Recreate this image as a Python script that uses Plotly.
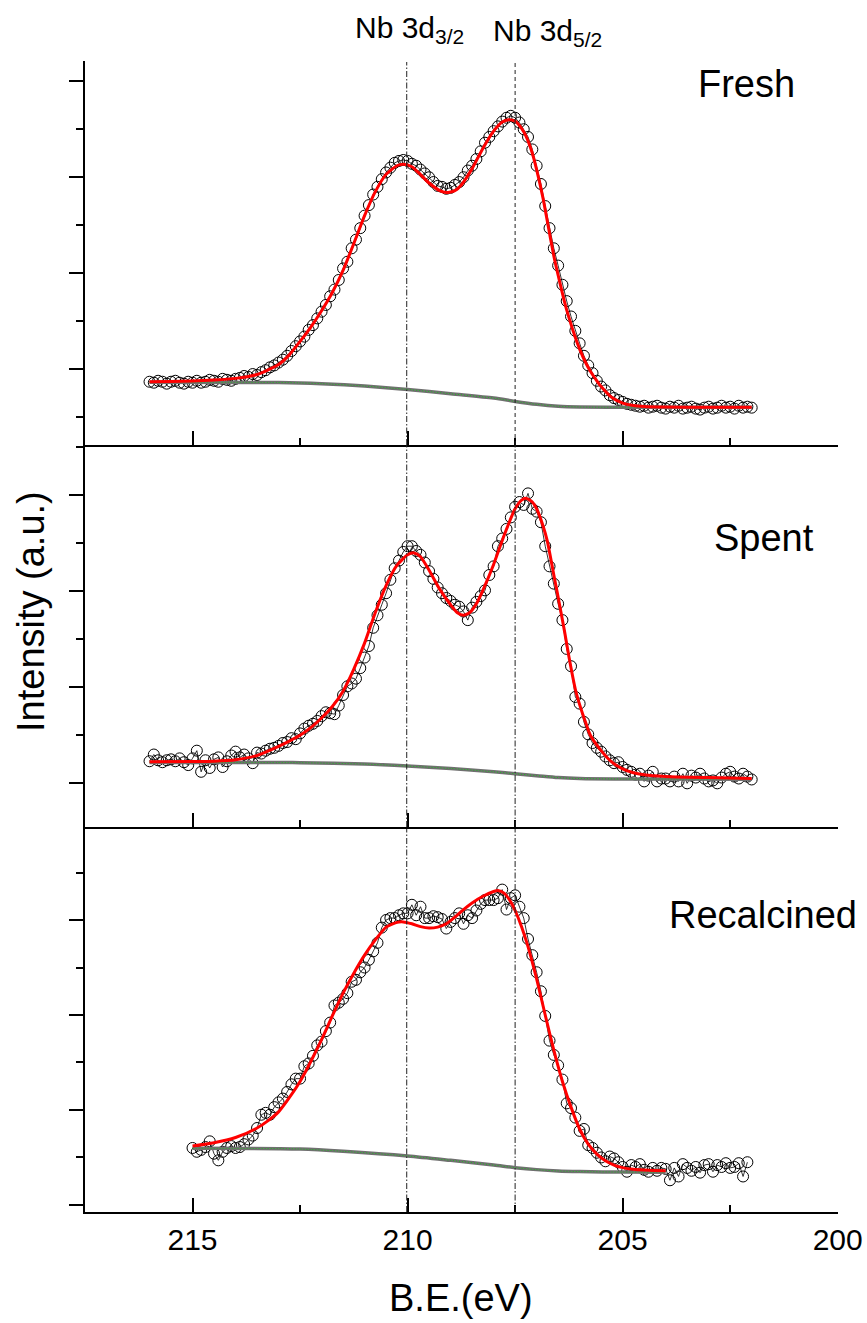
import plotly.graph_objects as go

W, H = 867, 1323

# ---------------- data ----------------
# binding energy range of the measured points (step 0.1 eV)
fresh_range = (216.0, 202.0)
fresh_y = [
    0.87, 0.86, 0.88, 0.87, 0.85, 0.87, 0.88, 0.86, 0.85, 0.87,
    0.86, 0.88, 0.86, 0.87, 0.89, 0.88, 0.87, 0.90, 0.89, 0.88,
    0.90, 0.91, 0.93, 0.92, 0.95, 0.94, 0.97, 0.99, 1.02, 1.04,
    1.07, 1.10, 1.14, 1.19, 1.24, 1.29, 1.34, 1.41, 1.46, 1.53,
    1.60, 1.67, 1.76, 1.83, 1.93, 2.05, 2.12, 2.26, 2.35, 2.47,
    2.60, 2.71, 2.82, 2.90, 2.98, 3.05, 3.10, 3.15, 3.17, 3.18,
    3.17, 3.14, 3.12, 3.08, 3.04, 3.00, 2.95, 2.91, 2.90, 2.88,
    2.89, 2.92, 2.95, 3.00, 3.07, 3.12, 3.19, 3.27, 3.36, 3.42,
    3.48, 3.53, 3.58, 3.62, 3.64, 3.62, 3.57, 3.50, 3.42, 3.29,
    3.12, 2.93, 2.70, 2.47, 2.26, 2.08, 1.88, 1.71, 1.55, 1.40,
    1.27, 1.14, 1.04, 0.96, 0.88, 0.82, 0.78, 0.73, 0.70, 0.68,
    0.66, 0.64, 0.63, 0.62, 0.61, 0.62, 0.60, 0.61, 0.62, 0.60,
    0.59, 0.61, 0.60, 0.62, 0.59, 0.60, 0.61, 0.59, 0.58, 0.60,
    0.61, 0.59, 0.60, 0.62, 0.60, 0.61, 0.59, 0.62, 0.60, 0.61,
    0.60,
]
fresh_fit_x = [216.0, 215.5, 215.0, 214.5, 214.0, 213.5, 213.0, 212.75, 212.5, 212.25,
               212.0, 211.75, 211.5, 211.25, 211.0, 210.75, 210.5, 210.25, 210.1, 209.9,
               209.75, 209.5, 209.25, 209.1, 208.9, 208.75, 208.5, 208.25, 208.0, 207.8,
               207.65, 207.5, 207.35, 207.25, 207.1, 207.0, 206.85, 206.75, 206.6, 206.5,
               206.35, 206.25, 206.1, 206.0, 205.85, 205.75, 205.6, 205.5, 205.25, 205.0,
               204.75, 204.5, 204.0, 203.0, 202.0]
fresh_fit_y = [0.870, 0.872, 0.878, 0.888, 0.905, 0.945, 1.05, 1.15, 1.29, 1.44,
               1.61, 1.80, 2.03, 2.31, 2.60, 2.85, 3.03, 3.12, 3.135, 3.11,
               3.05, 2.94, 2.86, 2.84, 2.86, 2.92, 3.09, 3.30, 3.48, 3.575,
               3.60, 3.585, 3.51, 3.43, 3.25, 3.08, 2.78, 2.54, 2.18, 1.98,
               1.70, 1.54, 1.33, 1.21, 1.06, 0.98, 0.88, 0.82, 0.705, 0.648,
               0.622, 0.612, 0.606, 0.604, 0.604]
fresh_bg_x = [216.0, 213.0, 212.5, 212.0, 211.0, 210.0, 209.0, 208.0, 207.5, 207.0,
              206.5, 206.0, 205.0, 202.0]
fresh_bg_y = [0.865, 0.862, 0.858, 0.850, 0.825, 0.790, 0.745, 0.700, 0.665, 0.635,
              0.615, 0.607, 0.604, 0.604]

spent_range = (216.0, 202.0)
spent_y = [
    1.23, 1.30, 1.24, 1.22, 1.24, 1.25, 1.23, 1.26, 1.22, 1.19,
    1.26, 1.34, 1.12, 1.24, 1.16, 1.25, 1.27, 1.17, 1.23, 1.29,
    1.33, 1.27, 1.30, 1.26, 1.21, 1.32, 1.31, 1.34, 1.36, 1.37,
    1.39, 1.42, 1.43, 1.47, 1.46, 1.52, 1.57, 1.60, 1.62, 1.65,
    1.70, 1.74, 1.73, 1.72, 1.81, 1.92, 2.01, 2.04, 2.09, 2.20,
    2.31, 2.43, 2.62, 2.75, 2.86, 2.98, 3.12, 3.24, 3.32, 3.41,
    3.47, 3.47, 3.42, 3.38, 3.30, 3.21, 3.13, 3.04, 2.98, 2.93,
    2.90, 2.86, 2.84, 2.79, 2.70, 2.83, 2.89, 2.95, 3.01, 3.17,
    3.26, 3.47, 3.55, 3.65, 3.77, 3.88, 3.93, 3.90, 4.02, 3.86,
    3.83, 3.72, 3.47, 3.26, 3.08, 2.87, 2.70, 2.40, 2.22, 1.90,
    1.83, 1.64, 1.51, 1.42, 1.37, 1.33, 1.28, 1.24, 1.21, 1.22,
    1.17, 1.14, 1.12, 1.09, 1.10, 1.02, 1.08, 1.12, 1.02, 1.05,
    1.05, 1.02, 1.07, 1.02, 1.10, 1.00, 1.08, 1.06, 1.10, 1.05,
    1.02, 1.03, 1.00, 1.06, 1.10, 1.12, 1.07, 1.05, 1.10, 1.07,
    1.04,
]
spent_fit_x = [216.0, 215.0, 214.5, 214.0, 213.5, 213.0, 212.75, 212.5, 212.25, 212.0,
               211.75, 211.5, 211.25, 211.0, 210.75, 210.5, 210.25, 210.0, 209.85, 209.7,
               209.5, 209.25, 209.0, 208.85, 208.7, 208.55, 208.4, 208.25, 208.0, 207.75,
               207.5, 207.35, 207.25, 207.1, 207.0, 206.85, 206.75, 206.6, 206.5, 206.35,
               206.25, 206.1, 206.0, 205.85, 205.75, 205.5, 205.25, 205.0, 204.75, 204.5,
               204.0, 203.0, 202.0]
spent_fit_y = [1.225, 1.226, 1.23, 1.245, 1.29, 1.385, 1.44, 1.50, 1.58, 1.68,
               1.80, 1.96, 2.19, 2.46, 2.78, 3.06, 3.27, 3.38, 3.40, 3.36,
               3.22, 3.02, 2.86, 2.78, 2.75, 2.78, 2.87, 3.01, 3.28, 3.59,
               3.86, 3.95, 3.97, 3.93, 3.86, 3.68, 3.52, 3.17, 2.94, 2.58,
               2.32, 1.98, 1.82, 1.62, 1.50, 1.34, 1.22, 1.15, 1.11, 1.09,
               1.072, 1.06, 1.051]
spent_bg_x = [216.0, 213.0, 212.5, 211.0, 210.0, 209.0, 208.0, 207.5, 207.0, 206.5,
              206.0, 205.0, 202.0]
spent_bg_y = [1.218, 1.216, 1.215, 1.200, 1.180, 1.155, 1.120, 1.100, 1.080, 1.060,
              1.050, 1.045, 1.043]

recalc_range = (215.0, 202.1)
recalc_y = [
    0.60, 0.56, 0.58, 0.61, 0.67, 0.54, 0.47, 0.56, 0.60, 0.62,
    0.60, 0.61, 0.64, 0.69, 0.73, 0.81, 0.95, 0.97, 0.95, 1.03,
    1.08, 1.12, 1.19, 1.27, 1.33, 1.33, 1.46, 1.49, 1.57, 1.68,
    1.72, 1.83, 1.92, 2.10, 2.13, 2.17, 2.23, 2.35, 2.37, 2.45,
    2.50, 2.58, 2.67, 2.76, 2.92, 3.00, 3.02, 3.02, 3.05, 3.07,
    3.07, 3.16, 3.05, 3.14, 3.02, 3.02, 3.04, 3.03, 3.01, 2.91,
    2.98, 3.02, 3.07, 2.96, 3.05, 3.02, 3.10, 3.17, 3.21, 3.21,
    3.21, 3.23, 3.32, 3.11, 3.23, 3.26, 3.14, 3.02, 2.80, 2.63,
    2.45, 2.25, 1.99, 1.73, 1.58, 1.47, 1.32, 1.07, 1.02, 0.92,
    0.78, 0.80, 0.63, 0.60, 0.55, 0.50, 0.46, 0.51, 0.49, 0.45,
    0.40, 0.35, 0.42, 0.40, 0.43, 0.37, 0.35, 0.39, 0.36, 0.39,
    0.38, 0.26, 0.39, 0.30, 0.43, 0.39, 0.36, 0.40, 0.34, 0.42,
    0.43, 0.35, 0.42, 0.40, 0.44, 0.39, 0.40, 0.44, 0.30, 0.45,
]
recalc_fit_x = [215.0, 214.5, 214.0, 213.5, 213.25, 213.0, 212.75, 212.5, 212.25, 212.0,
                211.75, 211.5, 211.25, 211.0, 210.75, 210.5, 210.25, 210.1, 209.9, 209.7,
                209.5, 209.3, 209.1, 208.9, 208.7, 208.5, 208.25, 208.0, 207.9, 207.75,
                207.6, 207.5, 207.35, 207.2, 207.0, 206.8, 206.6, 206.4, 206.2, 206.0,
                205.8, 205.6, 205.4, 205.2, 205.0, 204.75, 204.5, 204.25, 204.0]
recalc_fit_y = [0.621, 0.655, 0.71, 0.81, 0.885, 0.98, 1.13, 1.30, 1.51, 1.74,
                1.99, 2.23, 2.44, 2.63, 2.79, 2.925, 2.975, 2.98, 2.96, 2.93,
                2.915, 2.925, 2.96, 3.03, 3.11, 3.18, 3.25, 3.30, 3.31, 3.28,
                3.19, 3.10, 2.93, 2.72, 2.38, 2.00, 1.63, 1.30, 1.03, 0.80,
                0.64, 0.535, 0.465, 0.42, 0.393, 0.375, 0.367, 0.363, 0.361]
recalc_bg_x = [215.0, 213.0, 212.5, 211.5, 210.0, 209.0, 208.0, 207.5, 207.0, 206.5,
               206.0, 205.0, 204.0]
recalc_bg_y = [0.596, 0.593, 0.589, 0.565, 0.516, 0.470, 0.420, 0.393, 0.372, 0.358,
               0.352, 0.346, 0.344]

sample_names = ["Fresh", "Spent", "Recalcined"]
peak_names = ["Nb 3d<sub>3/2</sub>", "Nb 3d<sub>5/2</sub>"]
peak_positions = [210.02, 207.5]
x_ticks = [215, 210, 205, 200]
x_minor_ticks = [212.5, 207.5, 202.5]

# ---------------- layout helpers ----------------
def fx(px):
    return px / W

def fy(py):
    return 1 - py / H

def energies(rng, n):
    a, b = rng
    return [round(a + (b - a) * i / (n - 1), 3) for i in range(n)]

FONT = "Liberation Sans, Arial, sans-serif"

panels = [
    dict(name=sample_names[0], rng=fresh_range, y=fresh_y, fx_=fresh_fit_x, fy_=fresh_fit_y,
         bx=fresh_bg_x, by=fresh_bg_y, top=61, bot=445, yr=[0.211, 4.211],
         lab=(746.5, 84.2)),
    dict(name=sample_names[1], rng=spent_range, y=spent_y, fx_=spent_fit_x, fy_=spent_fit_y,
         bx=spent_bg_x, by=spent_bg_y, top=445, bot=827, yr=[0.545, 4.524],
         lab=(764, 538)),
    dict(name=sample_names[2], rng=recalc_range, y=recalc_y, fx_=recalc_fit_x, fy_=recalc_fit_y,
         bx=recalc_bg_x, by=recalc_bg_y, top=829, bot=1212, yr=[-0.074, 3.958],
         lab=(763, 915)),
]

fig = go.Figure()
layout = dict(
    width=W, height=H, autosize=False,
    margin=dict(l=0, r=0, t=0, b=0, autoexpand=False),
    paper_bgcolor="white", plot_bgcolor="white",
    showlegend=False,
    font=dict(family=FONT, color="black"),
)
shapes = []
annotations = []

xdom = [fx(85), fx(837.7)]

for i, p in enumerate(panels):
    k = "" if i == 0 else str(i + 1)
    xa, ya = "x" + k, "y" + k
    xs = energies(p["rng"], len(p["y"]))
    fig.add_trace(go.Scatter(
        x=xs, y=p["y"], xaxis=xa, yaxis=ya, mode="lines+markers",
        line=dict(color="black", width=0.8),
        marker=dict(symbol="circle-open", size=11, color="black", line=dict(width=1)),
    ))
    fig.add_trace(go.Scatter(
        x=p["bx"], y=p["by"], xaxis=xa, yaxis=ya, mode="lines",
        line=dict(color="#707070", width=3.5, shape="spline", smoothing=0.8),
    ))
    fig.add_trace(go.Scatter(
        x=p["bx"], y=p["by"], xaxis=xa, yaxis=ya, mode="lines",
        line=dict(color="#1fc01f", width=1, dash="1px,2px", shape="spline", smoothing=0.8),
    ))
    fig.add_trace(go.Scatter(
        x=p["fx_"], y=p["fy_"], xaxis=xa, yaxis=ya, mode="lines",
        line=dict(color="#ff0000", width=3, shape="spline", smoothing=0.6),
    ))
    last = i == len(panels) - 1
    layout["xaxis" + k] = dict(
        domain=xdom, anchor=ya, range=[217.5, 200], autorange=False, automargin=False,
        showline=True, linecolor="black", linewidth=2,
        ticks="inside", ticklen=14, tickwidth=2, tickcolor="black",
        tickvals=x_ticks, ticktext=[str(v) for v in x_ticks],
        showticklabels=last,
        tickfont=dict(family=FONT, size=30, color="black"),
        minor=dict(ticks="inside", ticklen=7, tickwidth=2, tickcolor="black",
                   tickvals=x_minor_ticks),
        showgrid=False, zeroline=False,
    )
    if i > 0:
        layout["xaxis" + k]["matches"] = "x"
    layout["yaxis" + k] = dict(
        domain=[fy(p["bot"]), fy(p["top"])], anchor=xa, range=p["yr"], autorange=False,
        automargin=False,
        showline=True, linecolor="black", linewidth=2,
        ticks="outside", ticklen=14, tickwidth=2, tickcolor="black",
        tick0=0, dtick=1, showticklabels=False,
        minor=dict(ticks="outside", ticklen=7, tickwidth=2, tickcolor="black",
                   tick0=0.5, dtick=1),
        showgrid=False, zeroline=False,
    )
    # reference lines at the peak positions
    for j, pos in enumerate(peak_positions):
        dash = "4px,3px" if (i == 0 and j == 1) else "6px,2px,1.5px,2px"
        y0 = fy(p["bot"])
        y1 = fy(62) if i == 0 else fy(p["top"])
        shapes.append(dict(type="line", xref=xa, yref="paper", x0=pos, x1=pos,
                           y0=y0, y1=y1, line=dict(color="#222222", width=1, dash=dash)))
    annotations.append(dict(
        text=p["name"], xref="paper", yref="paper", x=fx(p["lab"][0]), y=fy(p["lab"][1]),
        xanchor="center", yanchor="middle", showarrow=False,
        font=dict(family=FONT, size=38, color="black"),
    ))

# peak labels
for name, (cx, cy) in zip(peak_names, [(409.7, 30), (547.7, 32)]):
    annotations.append(dict(
        text=name, xref="paper", yref="paper", x=fx(cx), y=fy(cy),
        xanchor="center", yanchor="middle", showarrow=False,
        font=dict(family=FONT, size=30, color="black"),
    ))

# axis titles
annotations.append(dict(
    text="B.E.(eV)", xref="paper", yref="paper", x=fx(461.4), y=fy(1298),
    xanchor="center", yanchor="middle", showarrow=False,
    font=dict(family=FONT, size=38, color="black"),
))
annotations.append(dict(
    text="Intensity (a.u.)", xref="paper", yref="paper", x=fx(31), y=fy(612),
    xanchor="center", yanchor="middle", showarrow=False, textangle=-90,
    font=dict(family=FONT, size=38, color="black"),
))

layout["shapes"] = shapes
layout["annotations"] = annotations
fig.update_layout(**layout)
fig.write_html(
    "out.html",
    config={"responsive": False, "displayModeBar": False},
    post_script="document.body.style.margin='0';document.body.style.overflow='hidden';",
)
